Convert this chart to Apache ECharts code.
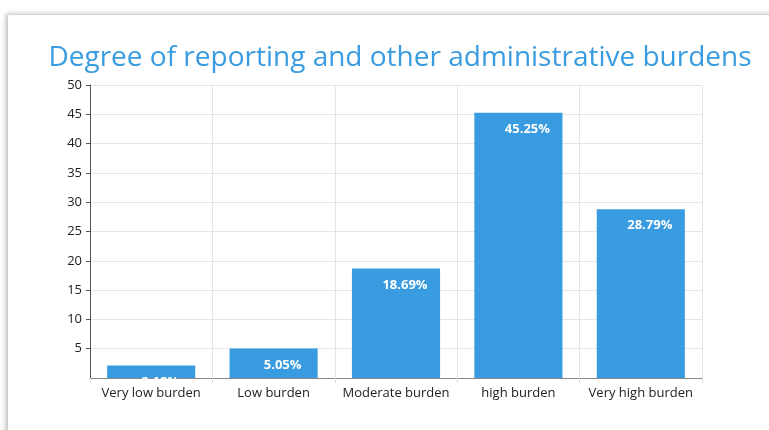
<!DOCTYPE html>
<html><head><meta charset="utf-8">
<script src="https://cdn.jsdelivr.net/npm/echarts@6/dist/echarts.min.js"></script>
<style>
html,body{margin:0;padding:0;background:#fff;width:769px;height:430px;overflow:hidden;}
#card{position:absolute;left:8px;top:15px;width:820px;height:480px;background:#fff;box-shadow:-2px -1px 5px rgba(0,0,0,0.28);}
#c{position:absolute;left:0;top:0;width:769px;height:430px;}
</style></head>
<body><div id="card"></div><div id="c"></div>
<script>
const categories = ['Very low burden','Low burden','Moderate burden','high burden','Very high burden'];
const values = [2.12, 5.05, 18.69, 45.25, 28.79];
const yTicks = {min:0, max:50, interval:5};

const chart = echarts.init(document.getElementById('c'), null, {renderer:'canvas'});
chart.setOption({
  backgroundColor:'transparent',
  animation:false,
  title:{text:'Degree of reporting and other administrative burdens', left:395, textAlign:'center', top:39,
    textStyle:{fontFamily:'Open Sans', fontSize:28, fontWeight:'normal', color:'#3a9ce0'}},
  grid:{left:90, right:67, top:85, bottom:52, containLabel:false},
  xAxis:{type:'category', data:categories,
    axisLine:{lineStyle:{color:'#888'}},
    axisTick:{show:true, interval:0, alignWithLabel:false, length:5, lineStyle:{color:'#ddd'}},
    splitLine:{show:true, interval:0, lineStyle:{color:'#e6e6e6'}},
    axisLabel:{interval:0, fontFamily:'Open Sans', fontSize:13, color:'#222', margin:9}},
  yAxis:{type:'value', min:yTicks.min, max:yTicks.max, interval:yTicks.interval,
    axisLine:{show:true, lineStyle:{color:'#555'}},
    axisTick:{show:true, length:4, lineStyle:{color:'#555'}},
    splitLine:{lineStyle:{color:'#e6e6e6'}},
    axisLabel:{fontFamily:'Open Sans', fontSize:13, color:'#222', showMinLabel:false, margin:8}},
  series:[{type:'bar', data:values, barWidth:'72%',
    itemStyle:{color:'#3a9ce0'},
    label:{show:true, position:'insideTop', offset:[9,5], formatter:p=>p.value.toFixed(2)+'%',
      fontFamily:'Open Sans', fontSize:13, fontWeight:'bold', color:'#fff'}}]
});
</script></body></html>
